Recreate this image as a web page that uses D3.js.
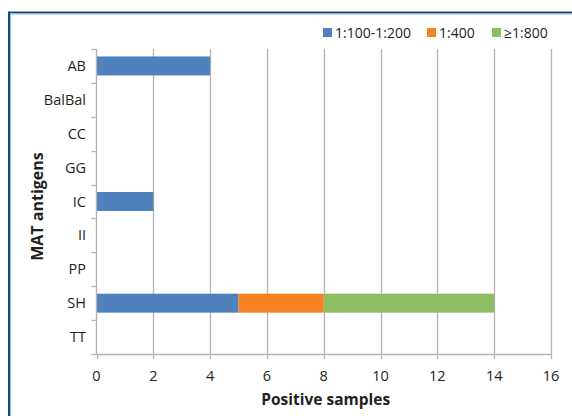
<!DOCTYPE html>
<html><head><meta charset="utf-8">
<script src="https://cdn.jsdelivr.net/npm/d3@7"></script>
<style>body{margin:0;background:#fff}svg{display:block}text{font-family:"Open Sans",sans-serif;fill:#231f20}</style>
</head><body><svg id="c" width="572" height="416"></svg>
<script>
const categories = ["AB","BalBal","CC","GG","IC","II","PP","SH","TT"];
const seriesNames = ["1:100-1:200","1:400","\u22651:800"];
const s1 = [4,0,0,0,2,0,0,5,0];
const s2 = [0,0,0,0,0,0,0,3,0];
const s3 = [0,0,0,0,0,0,0,6,0];
const xTicks = [0,2,4,6,8,10,12,14,16];
const colors = ["#4f81bd","#f58220","#8fbd63"];

const svg = d3.select("#c");
// frame
svg.append("line").attr("x1",9).attr("x2",572).attr("y1",12.5).attr("y2",12.5).attr("stroke","#0f4c81").attr("stroke-width",2);
svg.append("line").attr("x1",9).attr("x2",572).attr("y1",14).attr("y2",14).attr("stroke","#9dbbd6").attr("stroke-width",1);
svg.append("line").attr("x1",9).attr("x2",9).attr("y1",11.5).attr("y2",416).attr("stroke","#0f4c81").attr("stroke-width",2);
svg.append("line").attr("x1",10.5).attr("x2",10.5).attr("y1",14).attr("y2",416).attr("stroke","#9dbbd6").attr("stroke-width",1);

const L=96.5, R=551, T=49, B=354;
const x = d3.scaleLinear().domain([0,16]).range([L,R]);
const y = d3.scaleBand().domain(categories).range([T,B]).paddingInner(0.44).paddingOuter(0.22);
const grid="#b3b3b3";
// gridlines
svg.append("g").selectAll("line").data(xTicks.slice(1)).join("line")
  .attr("x1",d=>Math.round(x(d))+0.5).attr("x2",d=>Math.round(x(d))+0.5).attr("y1",T).attr("y2",B+5)
  .attr("stroke",grid).attr("stroke-width",1.3);
// bars
const data = categories.map((c,i)=>({cat:c, v:[s1[i],s2[i],s3[i]]}));
const stack = d3.stack().keys([0,1,2]).value((d,k)=>d.v[k])(data);
svg.append("g").selectAll("g").data(stack).join("g").attr("fill",(d,i)=>colors[i])
  .selectAll("rect").data(d=>d.filter(p=>p[1]>p[0])).join("rect")
  .attr("x",d=>x(d[0])).attr("width",d=>x(d[1])-x(d[0]))
  .attr("y",d=>y(d.data.cat)).attr("height",y.bandwidth());
// y axis line + ticks at band boundaries
svg.append("line").attr("x1",L).attr("x2",L).attr("y1",T).attr("y2",B).attr("stroke",grid).attr("stroke-width",1.3);
const bounds = d3.range(categories.length+1).map(i=>T+i*(B-T)/categories.length);
svg.append("g").selectAll("line").data(bounds).join("line")
  .attr("x1",L-5).attr("x2",L).attr("y1",d=>Math.round(d)+0.5).attr("y2",d=>Math.round(d)+0.5)
  .attr("stroke",grid).attr("stroke-width",1.3);
// x axis line
svg.append("line").attr("x1",L).attr("x2",R+0.5).attr("y1",B+0.5).attr("y2",B+0.5).attr("stroke",grid).attr("stroke-width",1.3);
svg.append("line").attr("x1",Math.round(L)+0.5).attr("x2",Math.round(L)+0.5).attr("y1",B).attr("y2",B+5).attr("stroke",grid).attr("stroke-width",1.3);
// x tick labels
svg.append("g").selectAll("text").data(xTicks).join("text")
  .attr("x",d=>x(d)).attr("y",381).attr("text-anchor","middle").attr("font-size",14.5).text(d=>d);
// y labels
svg.append("g").selectAll("text").data(categories).join("text")
  .attr("x",86).attr("y",d=>y(d)+y.bandwidth()/2+5).attr("text-anchor","end").attr("font-size",14.5).text(d=>d);
// axis titles
svg.append("text").attr("x",(L+R)/2+2).attr("y",405).attr("text-anchor","middle").attr("font-size",15.5).attr("font-weight","bold").text("Positive samples");
svg.append("text").attr("transform","translate(43,"+((T+B)/2+5)+") rotate(-90)").attr("text-anchor","middle").attr("font-size",16).attr("font-weight","bold").text("MAT antigens");
// legend
const lx=[323,427,492];
const lg = svg.append("g").selectAll("g").data(seriesNames).join("g").attr("transform",(d,i)=>`translate(${lx[i]},28)`);
lg.append("rect").attr("width",9).attr("height",9).attr("fill",(d,i)=>colors[i]);
lg.append("text").attr("x",12).attr("y",10).attr("font-size",14).text(d=>d);
</script></body></html>
